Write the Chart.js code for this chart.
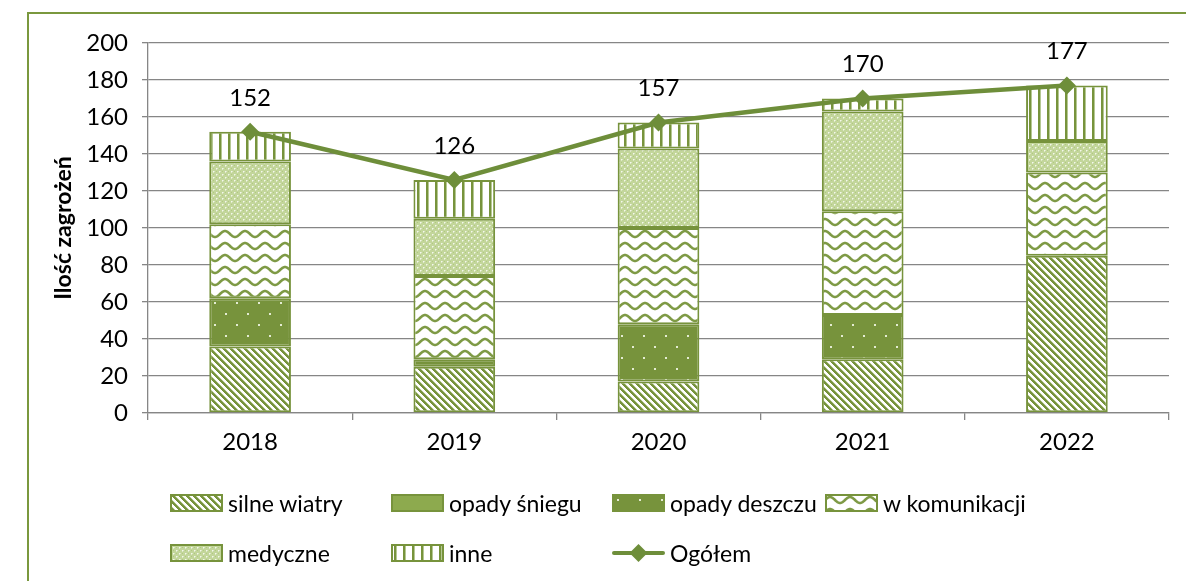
<!DOCTYPE html>
<html>
<head>
<meta charset="utf-8">
<script src="https://cdn.jsdelivr.net/npm/chart.js@4"></script>
<style>
  body { margin: 0; background: #fff; font-family: Lato, sans-serif; }
  #wrap { position: absolute; left: 0; top: 0; width: 1186px; height: 581px; overflow: hidden; }
  #frame { position: absolute; left: 27px; top: 12px; width: 1200px; height: 620px; border: 2px solid #7A983E; }
  #chartBox { position: absolute; left: 0; top: 0; width: 1186px; height: 581px; }
  .item { position: absolute; display: flex; align-items: center; font-size: 23px; color: #000; white-space: nowrap; }
  .item canvas { margin-right: 5px; }
</style>
</head>
<body>
<div id="wrap">
  <div id="frame"></div>
  <div id="chartBox"><canvas id="chart" width="1186" height="581"></canvas></div>
  <div id="legend"></div>
</div>
<script>
const years = ['2018', '2019', '2020', '2021', '2022'];
const silneWiatry = [36, 25, 17, 29, 85];
const opadySniegu = [0, 0, 0, 0, 0];
const opadyDeszczu = [26, 4, 31, 24, 0];
const wKomunikacji = [40, 45, 52, 56, 45];
const medyczne = [34, 31, 43, 54, 17];
const inne = [16, 21, 14, 7, 30];
const ogolem = [152, 126, 157, 170, 177];
const yMin = 0, yMax = 200, yStep = 20;

const GREEN = '#77933C';
const LINE = '#6E8E3A';

// pattern tiles
function tile(ctx, w, h, draw) {
  const c = document.createElement('canvas');
  c.width = w; c.height = h;
  draw(c.getContext('2d'), w, h);
  return ctx.createPattern(c, 'repeat');
}
function px(g, x, y, col) { g.fillStyle = col; g.fillRect(x, y, 1, 1); }

const patterns = {
  diag: ctx => tile(ctx, 7, 7, (g, w, h) => {
    g.fillStyle = '#fff'; g.fillRect(0, 0, w, h);
    for (let y = 0; y < h; y++) for (let x = 0; x < w; x++) {
      const d = ((x - y) % 7 + 7) % 7;
      if (d < 3) px(g, x, y, GREEN);
      else if (d === 3) px(g, x, y, '#B7C994');
    }
  }),
  snow: ctx => '#8DAA4E',
  rain: ctx => tile(ctx, 22, 22, (g, w, h) => {
    g.fillStyle = GREEN; g.fillRect(0, 0, w, h);
    g.fillStyle = '#E4ECD3';
    g.fillRect(5, 5, 2, 2); g.fillRect(16, 16, 2, 2);
  }),
  wave: ctx => tile(ctx, 20, 12, (g, w, h) => {
    g.fillStyle = '#fff'; g.fillRect(0, 0, w, h);
    g.strokeStyle = '#7E9A45'; g.lineWidth = 2.6;
    g.beginPath();
    for (let x = -2; x <= w + 2; x += 0.5) {
      const y = 6 - 3 * Math.sin(2 * Math.PI * x / w);
      if (x === -2) g.moveTo(x, y); else g.lineTo(x, y);
    }
    g.stroke();
  }),
  med: ctx => tile(ctx, 6, 6, (g, w, h) => {
    g.fillStyle = '#C3D69B'; g.fillRect(0, 0, w, h);
    px(g, 0, 0, '#F4F8EC'); px(g, 3, 3, '#F4F8EC');
    px(g, 1, 0, '#DDE8C8'); px(g, 0, 1, '#DDE8C8');
    px(g, 4, 3, '#DDE8C8'); px(g, 3, 4, '#DDE8C8');
    px(g, 0, 3, '#B0C880'); px(g, 3, 0, '#B0C880');
  }),
  vert: ctx => tile(ctx, 9, 1, (g, w, h) => {
    g.fillStyle = '#fff'; g.fillRect(0, 0, w, h);
    px(g, 3, 0, GREEN); px(g, 4, 0, GREEN); px(g, 5, 0, '#B5C892');
  })
};

const canvas = document.getElementById('chart');
const ctx = canvas.getContext('2d');

const series = [
  { label: 'silne wiatry', data: silneWiatry, pat: 'diag' },
  { label: 'opady śniegu', data: opadySniegu, pat: 'snow' },
  { label: 'opady deszczu', data: opadyDeszczu, pat: 'rain' },
  { label: 'w komunikacji', data: wKomunikacji, pat: 'wave' },
  { label: 'medyczne', data: medyczne, pat: 'med' },
  { label: 'inne', data: inne, pat: 'vert' }
];

const datasets = series.map(s => ({
  type: 'bar',
  label: s.label,
  data: s.data,
  backgroundColor: patterns[s.pat](ctx),
  borderColor: GREEN,
  borderWidth: 2,
  borderSkipped: false,
  stack: 'bars',
  barPercentage: 0.4,
  categoryPercentage: 1,
  order: 2
}));
datasets.push({
  type: 'line',
  label: 'Ogółem',
  data: ogolem,
  borderColor: LINE,
  backgroundColor: LINE,
  borderWidth: 4.5,
  pointStyle: 'rectRot',
  pointRadius: 9,
  pointBorderWidth: 0,
  stack: 'total',
  order: 1
});

const totalLabels = {
  id: 'totalLabels',
  afterDatasetsDraw(chart) {
    const meta = chart.getDatasetMeta(6);
    const c = chart.ctx;
    c.save();
    c.font = '24px Lato';
    c.fillStyle = '#000';
    c.textAlign = 'center';
    c.textBaseline = 'middle';
    meta.data.forEach((pt, i) => c.fillText(String(ogolem[i]), pt.x, pt.y - 34));
    c.restore();
  }
};

new Chart(ctx, {
  data: { labels: years, datasets },
  options: {
    responsive: false,
    animation: false,
    layout: { padding: { left: 48, top: 43, right: 17, bottom: 110 } },
    plugins: { legend: { display: false }, tooltip: { enabled: false } },
    scales: {
      x: {
        stacked: true,
        grid: { drawOnChartArea: false, drawTicks: true, tickLength: 7, color: '#868686', lineWidth: 1.3 },
        border: { color: '#868686', width: 1.3 },
        ticks: { color: '#000', font: { family: 'Lato', size: 24 }, padding: 8 },
        afterFit: s => { s.height = 58; }
      },
      y: {
        stacked: true,
        min: yMin, max: yMax,
        grid: { color: '#868686', lineWidth: 1.3, tickLength: 6 },
        border: { color: '#868686', width: 1.3 },
        ticks: { stepSize: yStep, color: '#000', font: { family: 'Lato', size: 24 }, padding: 14 },
        title: { display: true, text: 'Ilość zagrożeń', color: '#000', font: { family: 'Lato', size: 23, weight: 'bold' }, padding: 2 },
        afterFit: s => { s.width = 100; }
      }
    }
  },
  plugins: [totalLabels]
});

// legend, laid out like the reference grid
const legendPos = [
  [170, 503], [391, 503], [612, 503], [825, 503],
  [170, 553], [391, 553], [612, 553]
];
const legend = document.getElementById('legend');
datasets.forEach((ds, i) => {
  const item = document.createElement('div');
  item.className = 'item';
  item.style.left = legendPos[i][0] + 'px';
  item.style.top = (legendPos[i][1] - 17) + 'px';
  item.style.height = '34px';
  const sw = document.createElement('canvas');
  sw.width = 53; sw.height = 18;
  const g = sw.getContext('2d');
  if (ds.type === 'bar') {
    g.fillStyle = patterns[series[i].pat](g);
    g.fillRect(0, 0, 53, 18);
    g.strokeStyle = GREEN; g.lineWidth = 2;
    g.strokeRect(1, 1, 51, 16);
  } else {
    g.strokeStyle = LINE; g.lineWidth = 4; g.lineCap = 'round';
    g.beginPath(); g.moveTo(2, 9); g.lineTo(51, 9); g.stroke();
    g.fillStyle = LINE;
    g.beginPath(); g.moveTo(26.5, 0); g.lineTo(35.5, 9); g.lineTo(26.5, 18); g.lineTo(17.5, 9); g.closePath(); g.fill();
  }
  item.appendChild(sw);
  const t = document.createElement('span');
  t.textContent = ds.label;
  item.appendChild(t);
  legend.appendChild(item);
});
</script>
</body>
</html>
